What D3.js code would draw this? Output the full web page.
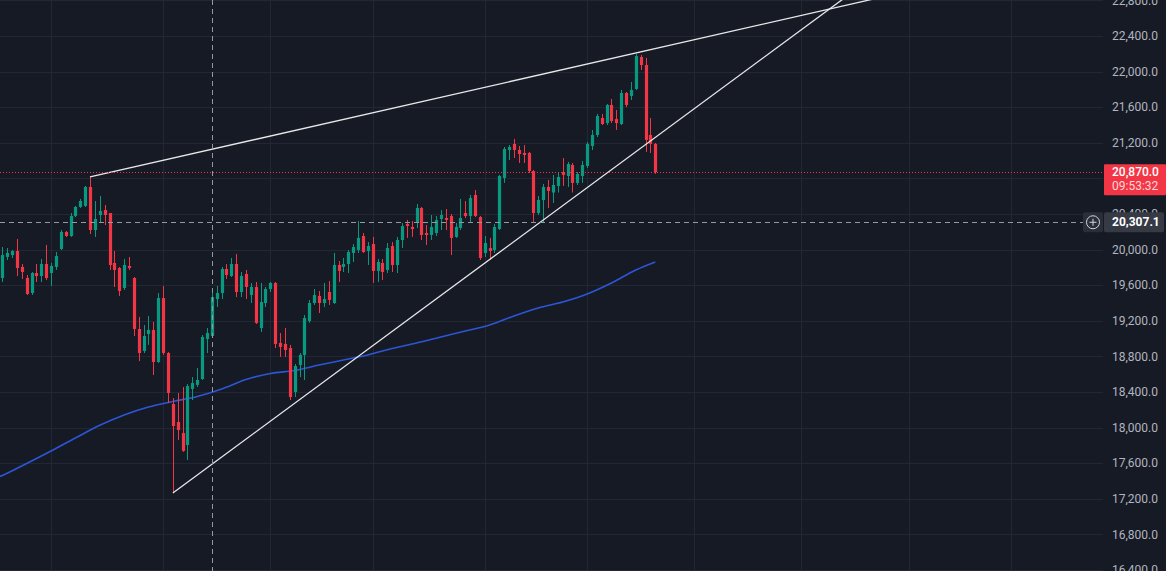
<!DOCTYPE html>
<html><head><meta charset="utf-8">
<script src="https://cdn.jsdelivr.net/npm/d3@7"></script>
<style>html,body{margin:0;padding:0;background:#161a25;overflow:hidden}svg{display:block}</style>
</head><body><svg id="c" width="1166" height="571"></svg>
<script>
// ---- data ----
const opens = [19681,19917,19939,19984,19805,19681,19512,19737,19703,19838,
19737,19805,20007,20198,20153,20377,20479,20490,20704,20220,
20389,20445,20411,19850,19793,19568,19816,19681,19108,18861,
19052,19097,18737,19456,18838,18265,18063,17939,17804,18434,
18479,18546,18996,19029,19445,19512,19782,19703,19838,19524,
19726,19490,19580,19119,19400,19557,19625,18951,18940,18894,
18400,18704,18816,19198,19400,19479,19400,19524,19400,19827,
19805,19838,19962,19995,20153,19984,20063,19760,19850,19771,
20040,19827,20108,20288,20254,20299,20468,20187,20164,20187,
20344,20355,20377,20142,20243,20411,20377,20614,20366,19962,
20018,19995,20231,20805,21119,21187,21119,21086,21086,20883,
20411,20557,20704,20641,20715,20872,20827,20951,20749,20827,
20940,21164,21288,21479,21422,21625,21467,21411,21760,21726,
21805,22164,22074,21288,21187];
const highs = [20029,20018,19995,20119,19838,19715,19748,19838,19894,20052,
19850,19973,20220,20209,20411,20490,20569,20715,20816,20546,
20603,20501,20411,19984,19805,19894,19917,19692,19243,19153,
19254,19187,19512,19591,18849,18332,18389,18456,18490,18568,
18670,19041,19119,19512,19591,19805,19838,19906,19951,19748,
19771,19625,19636,19625,19580,19636,19636,19063,19119,18929,
18715,18838,19265,19434,19557,19535,19625,19647,19962,19872,
19906,19995,20063,20321,20187,20085,20142,19894,19894,20074,
20085,20142,20299,20333,20321,20513,20479,20276,20389,20377,
20445,20456,20400,20299,20569,20546,20614,20670,20377,20153,
20131,20288,20839,21153,21175,21243,21164,21175,21097,20894,
20603,20738,20783,20839,20872,21029,20985,20973,20872,20996,
21209,21344,21524,21524,21636,21692,21569,21794,21771,21883,
22198,22187,22153,21479,21198];
const lows = [19636,19883,19906,19703,19670,19490,19490,19636,19636,19658,
19591,19771,19995,20142,20142,20366,20468,20479,20175,20142,
20310,20276,19771,19580,19479,19546,19771,19029,18748,18838,
18929,18591,18726,18816,18276,17265,17861,17727,17636,18310,
18456,18535,18838,19018,19355,19445,19670,19692,19467,19467,
19445,19400,19164,19074,19355,19524,18894,18793,18793,18310,
18344,18568,18535,19176,19378,19288,19355,19378,19389,19636,
19748,19737,19861,19962,19962,19827,19625,19636,19658,19737,
19748,19737,20018,20131,20142,20243,20108,20052,20108,20153,
20220,20220,19939,20131,20220,20355,20310,20366,19883,19917,
19883,19962,20220,20749,21007,21029,20973,20973,20861,20310,
20389,20310,20468,20524,20641,20715,20704,20641,20726,20749,
20917,21119,21265,21400,21400,21422,21344,21400,21602,21681,
21794,22018,21097,21086,20850];
const closes = [19939,19962,19984,19793,19748,19501,19737,19703,19838,19681,
19816,19928,20198,20153,20377,20479,20546,20704,20220,20344,
20434,20389,19827,19771,19535,19827,19793,19108,18838,19029,
19097,18737,19456,18838,18389,18018,17973,17738,18467,18501,
18535,19018,19063,19467,19512,19782,19715,19838,19524,19703,
19580,19580,19176,19411,19557,19625,18940,18906,18872,18344,
18692,18816,19232,19400,19490,19400,19445,19434,19827,19760,
19838,19973,20029,20131,19973,20040,19760,19861,19748,20018,
19827,20108,20265,20265,20231,20468,20164,20164,20254,20333,
20389,20333,20131,20254,20355,20377,20580,20377,19906,20074,
19984,20254,20827,21131,21153,21119,21074,21063,20883,20411,
20557,20704,20659,20726,20816,20839,20962,20749,20850,20951,
21187,21288,21501,21411,21625,21445,21422,21760,21625,21794,
22175,22074,21232,21187,20870];

// moving average (bar index, value)
const maIndex = [-1,0,5,10,15,20,25,30,35,40,45,50,55,60,65,70,75,80,85,90,95,100,105,110,115,120,125,130,134];
const maValues = [17440,17462,17597,17737,17883,18026,18142,18231,18293,18349,18434,18540,18608,18642,18703,18760,18816,18889,18950,19018,19085,19153,19254,19344,19411,19501,19625,19771,19861];

// trend lines: two anchors each (bar index, price), extended to the right
const upperLine = [[18, 20816], [130, 22209]];
const lowerLine = [[35, 17265], [132, 21180]];

const priceTicks = d3.range(16400, 23200, 400);
const timeGridIndex = [10, 33, 55, 76, 99, 120, 142, 164, 186, 207];
const crosshairIndex = 43;
const crosshairPrice = 20307.1;
const countdown = "09:53:32";

// ---- drawing ----
const W = 1166, H = 571, plotRight = 1103;
const bg = "#161a25", gridC = "#232733", up = "#089981", dn = "#f23645";
const svg = d3.select("#c");
svg.append("rect").attr("width", W).attr("height", H).attr("fill", bg);

const x = d3.scaleLinear().domain([0, 134]).range([2.3, 655.3]);
const y = d3.scaleLinear().domain([16400, 22400]).range([570, 36]);

svg.append("clipPath").attr("id", "plot").append("rect")
  .attr("x", 0).attr("y", 0).attr("width", plotRight).attr("height", H);
const g = svg.append("g").attr("clip-path", "url(#plot)");

// grid
g.selectAll(".hg").data(priceTicks).join("line")
  .attr("x1", 0).attr("x2", plotRight)
  .attr("y1", d => Math.round(y(d)) + 0.5).attr("y2", d => Math.round(y(d)) + 0.5)
  .attr("stroke", gridC).attr("stroke-width", 1);
g.selectAll(".vg").data(timeGridIndex).join("line")
  .attr("x1", d => Math.round(x(d)) + 0.5).attr("x2", d => Math.round(x(d)) + 0.5)
  .attr("y1", 0).attr("y2", H)
  .attr("stroke", gridC).attr("stroke-width", 1);

// moving average
const maData = maIndex.map((d, i) => [d, maValues[i]]);
g.append("path").datum(maData)
  .attr("d", d3.line().x(d => x(d[0])).y(d => y(d[1])).curve(d3.curveMonotoneX))
  .attr("fill", "none").attr("stroke", "#2c56d6").attr("stroke-width", 1.6);

// candles
const bars = opens.map((o, i) => ({i, o, h: highs[i], l: lows[i], c: closes[i]}));
const bw = 3.2;
const cg = g.append("g");
cg.selectAll(".wick").data(bars).join("line")
  .attr("x1", d => Math.round(x(d.i)) + 0.5).attr("x2", d => Math.round(x(d.i)) + 0.5)
  .attr("y1", d => y(d.h)).attr("y2", d => y(d.l))
  .attr("stroke", d => d.c >= d.o ? up : dn).attr("stroke-width", 1);
cg.selectAll(".body").data(bars).join("rect")
  .attr("x", d => Math.round(x(d.i)) + 0.5 - bw / 2)
  .attr("y", d => y(Math.max(d.o, d.c)))
  .attr("width", bw)
  .attr("height", d => Math.max(1, Math.abs(y(d.o) - y(d.c))))
  .attr("fill", d => d.c >= d.o ? up : dn);

// trend lines
function extend(a, b, toIndex) {
  const s = (b[1] - a[1]) / (b[0] - a[0]);
  return [a, [toIndex, a[1] + s * (toIndex - a[0])]];
}
[upperLine, lowerLine].forEach(l => {
  const pts = extend(l[0], l[1], 260);
  g.append("line")
    .attr("x1", x(pts[0][0])).attr("y1", y(pts[0][1]))
    .attr("x2", x(pts[1][0])).attr("y2", y(pts[1][1]))
    .attr("stroke", "#e8e8ea").attr("stroke-width", 1.3);
});

// current price line (dotted red)
const cur = closes[closes.length - 1];
svg.append("line").attr("x1", 0).attr("x2", 1104)
  .attr("y1", Math.round(y(cur)) + 0.5).attr("y2", Math.round(y(cur)) + 0.5)
  .attr("stroke", dn).attr("stroke-width", 1).attr("stroke-dasharray", "1,2");

// crosshair
svg.append("line").attr("x1", Math.round(x(crosshairIndex)) + 0.5).attr("x2", Math.round(x(crosshairIndex)) + 0.5)
  .attr("y1", 0).attr("y2", H)
  .attr("stroke", "#9598a1").attr("stroke-width", 1).attr("stroke-dasharray", "5,4");
svg.append("line").attr("x1", 0).attr("x2", 1083)
  .attr("y1", Math.round(y(crosshairPrice)) + 0.5).attr("y2", Math.round(y(crosshairPrice)) + 0.5)
  .attr("stroke", "#9598a1").attr("stroke-width", 1).attr("stroke-dasharray", "5,4");

// price axis labels (a label fully hidden by the current-price tag is skipped)
const fmt = d3.format(",.1f");
const cur_y = y(cur);
const visibleTicks = priceTicks.filter(d => Math.abs(y(d) - (cur_y + 7.5)) > 12);
svg.selectAll(".pl").data(visibleTicks).join("text")
  .attr("x", 1112).attr("y", d => y(d)).attr("dy", "0.35em")
  .attr("fill", "#b2b5be").attr("font-family", "Roboto, 'Noto Sans', sans-serif")
  .attr("font-size", 12).text(d => fmt(d));

// current price tag
const cy = cur_y;
svg.append("rect").attr("x", 1104).attr("y", cy - 8).attr("width", 62).attr("height", 31)
  .attr("fill", dn).attr("rx", 1);
svg.append("text").attr("x", 1112).attr("y", cy).attr("dy", "0.35em")
  .attr("fill", "#ffffff").attr("font-family", "Roboto, sans-serif").attr("font-size", 12)
  .attr("font-weight", 500).text(fmt(cur));
svg.append("text").attr("x", 1112).attr("y", cy + 14).attr("dy", "0.35em")
  .attr("fill", "#ffd6da").attr("font-family", "Roboto, sans-serif").attr("font-size", 12)
  .text(countdown);

// crosshair price tag + plus button
const hy = y(crosshairPrice);
svg.append("rect").attr("x", 1104).attr("y", hy - 10).attr("width", 60).attr("height", 20)
  .attr("fill", "#363a45").attr("rx", 2);
svg.append("text").attr("x", 1112).attr("y", hy).attr("dy", "0.35em")
  .attr("fill", "#ffffff").attr("font-family", "Roboto, sans-serif").attr("font-size", 12)
  .attr("font-weight", 700).text(fmt(crosshairPrice));
svg.append("rect").attr("x", 1083).attr("y", hy - 10).attr("width", 20).attr("height", 20)
  .attr("fill", "#2a2e39").attr("rx", 2);
svg.append("circle").attr("cx", 1093).attr("cy", hy).attr("r", 6.5)
  .attr("fill", "none").attr("stroke", "#d1d4dc").attr("stroke-width", 1);
svg.append("line").attr("x1", 1089.5).attr("x2", 1096.5).attr("y1", hy).attr("y2", hy)
  .attr("stroke", "#d1d4dc").attr("stroke-width", 1);
svg.append("line").attr("x1", 1093).attr("x2", 1093).attr("y1", hy - 3.5).attr("y2", hy + 3.5)
  .attr("stroke", "#d1d4dc").attr("stroke-width", 1);
</script></body></html>
